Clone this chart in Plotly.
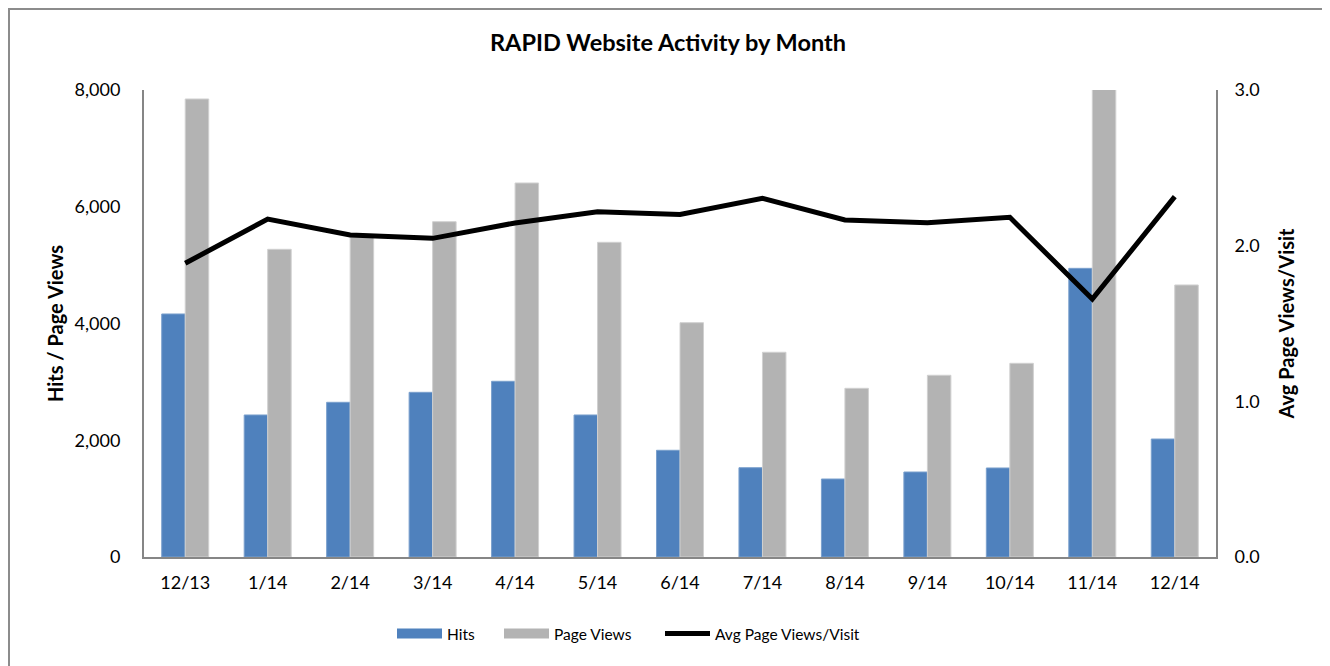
import plotly.graph_objects as go

months = ["12/13", "1/14", "2/14", "3/14", "4/14", "5/14", "6/14", "7/14",
          "8/14", "9/14", "10/14", "11/14", "12/14"]
hits = [4163, 2433, 2650, 2821, 3010, 2433, 1828, 1530, 1336, 1456, 1525, 4945, 2021]
page_views = [7846, 5271, 5480, 5744, 6407, 5391, 4014, 3507, 2890, 3113, 3318, 8020, 4660]
avg_views_per_visit = [1.887, 2.171, 2.069, 2.047, 2.146, 2.218, 2.201, 2.304,
                       2.165, 2.147, 2.182, 1.657, 2.315]

left_ticks = [0, 2000, 4000, 6000, 8000]
right_ticks = [0.0, 1.0, 2.0, 3.0]

FONT = "Lato"
AXIS_COLOR = "#868686"
HITS_COLOR = "#4F81BD"
PV_COLOR = "#B3B3B3"

fig = go.Figure()
fig.add_trace(go.Bar(x=months, y=hits, name="Hits", showlegend=False,
                     marker=dict(color=HITS_COLOR, line=dict(width=1, color="#7BA0CD"))))
fig.add_trace(go.Bar(x=months, y=page_views, name="Page Views", showlegend=False,
                     marker=dict(color=PV_COLOR, line=dict(width=1, color="#D0D0D0"))))
fig.add_trace(go.Scatter(x=months, y=avg_views_per_visit, name="Avg Page Views/Visit",
                         mode="lines", yaxis="y2", showlegend=False,
                         line=dict(color="black", width=5)))
# legend entries (Excel-style wide swatches)
fig.add_trace(go.Scatter(x=[None], y=[None], name="Hits", mode="lines", legend="legend",
                         line=dict(color=HITS_COLOR, width=12)))
fig.add_trace(go.Scatter(x=[None], y=[None], name="Page Views", mode="lines", legend="legend2",
                         line=dict(color=PV_COLOR, width=12)))
fig.add_trace(go.Scatter(x=[None], y=[None], name="Avg Page Views/Visit", mode="lines",
                         legend="legend3", line=dict(color="black", width=5)))

# page body has an 8px margin: figure coords = screen coords - 8
W, H = 1330, 666
L, R, T, B = 136, 1208, 82, 549
px = lambda v: (v - L) / (R - L)
py = lambda v: (B - v) / (B - T)

def leg(xpix):
    return dict(orientation="h", x=px(xpix), xanchor="left", y=py(626), yanchor="middle",
                font=dict(family=FONT, size=15.5), itemwidth=45,
                bgcolor="rgba(0,0,0,0)")

fig.update_layout(
    width=W, height=H,
    margin=dict(l=L, r=W - R, t=T, b=H - B),
    paper_bgcolor="white", plot_bgcolor="white",
    font=dict(family=FONT, size=18, color="black"),
    title=dict(text="<b>RAPID Website Activity by Month</b>", x=px(660),
               xanchor="center", xref="paper",
               y=1 - 35 / H, yanchor="middle", font=dict(family=FONT, size=23.5)),
    barmode="group", bargap=0.43, bargroupgap=0,
    showlegend=True,
    legend=leg(384), legend2=leg(491), legend3=leg(652),
    xaxis=dict(showline=True, linecolor=AXIS_COLOR, linewidth=2, showgrid=False,
               ticks="", tickfont=dict(size=18), ticklabelstandoff=8),
    yaxis=dict(range=[0, 8000], tickvals=left_ticks, tickformat=",", showline=True,
               linecolor=AXIS_COLOR, linewidth=2, showgrid=False, zeroline=False,
               ticks="", ticklabelstandoff=18,
               title=dict(text="<b>Hits / Page Views</b>", font=dict(size=20), standoff=6)),
    yaxis2=dict(range=[0, 3], tickvals=right_ticks, tickformat=".1f", overlaying="y",
                side="right", showline=True, linecolor=AXIS_COLOR, linewidth=2,
                showgrid=False, zeroline=False, ticks="", ticklabelstandoff=13,
                title=dict(text="<b>Avg Page Views/Visit</b>", font=dict(size=20), standoff=21)),
)

# outer chart border
fig.add_shape(type="rect", xref="paper", yref="paper",
              x0=px(1), x1=px(1320), y0=py(662), y1=py(1),
              line=dict(color="#8C8C8C", width=2), fillcolor="rgba(0,0,0,0)", layer="below")

fig.write_html("out.html")
